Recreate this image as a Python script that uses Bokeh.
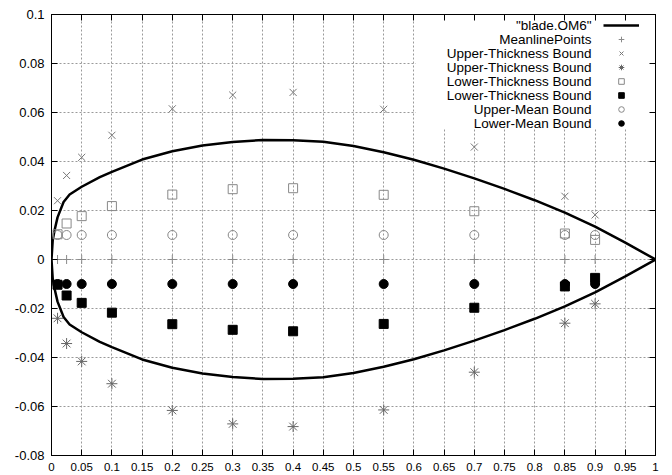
from bokeh.plotting import figure
from bokeh.models import (Range1d, FixedTicker, LinearAxis, Legend, LegendItem, BoxAnnotation,
                          Label, CustomJSTickFormatter)
from bokeh.core.properties import value
from bokeh.embed import file_html
from bokeh.resources import INLINE

# blade profile (upper half; the lower half is its mirror image)
prof_x = [0.0, 0.002, 0.005, 0.01, 0.02, 0.03, 0.05, 0.08, 0.1, 0.15, 0.2, 0.25, 0.3, 0.35,
          0.4, 0.45, 0.5, 0.55, 0.6, 0.65, 0.7, 0.75, 0.8, 0.85, 0.9, 0.95, 1.0]
prof_y = [0.0, 0.0078, 0.0118, 0.0172, 0.0235, 0.0265, 0.0297, 0.0336, 0.0358, 0.0408, 0.0442,
          0.0465, 0.048, 0.0488, 0.0487, 0.0481, 0.0463, 0.0438, 0.0407, 0.0371, 0.0331,
          0.0288, 0.0242, 0.0191, 0.0134, 0.0069, 0.0]

pt_x = [0.01, 0.025, 0.05, 0.1, 0.2, 0.3, 0.4, 0.55, 0.7, 0.85, 0.9]
meanline_y = [0.0, 0.0, 0.0, 0.0, 0.0, 0.0, 0.0, 0.0, 0.0, 0.0, 0.0]
upper_thick_a = [0.024, 0.0343, 0.0417, 0.0507, 0.0615, 0.0671, 0.0682, 0.0613, 0.0459, 0.0258, 0.0182]
upper_thick_b = [-0.024, -0.0343, -0.0416, -0.0507, -0.0616, -0.0671, -0.0682, -0.0614, -0.046, -0.026, -0.0181]
lower_thick_a = [0.0103, 0.0147, 0.0177, 0.0218, 0.0265, 0.0287, 0.0291, 0.0264, 0.0197, 0.0106, 0.008]
lower_thick_b = [-0.0103, -0.0147, -0.0177, -0.0217, -0.0264, -0.0287, -0.0293, -0.0263, -0.0197, -0.011, -0.0075]
upper_mean = [0.01, 0.01, 0.01, 0.01, 0.01, 0.01, 0.01, 0.01, 0.01, 0.01, 0.01]
lower_mean = [-0.01, -0.01, -0.01, -0.01, -0.01, -0.01, -0.01, -0.01, -0.01, -0.01, -0.01]

series_names = ['"blade.OM6"', "MeanlinePoints", "Upper-Thickness Bound", "Upper-Thickness Bound",
                "Lower-Thickness Bound", "Lower-Thickness Bound", "Upper-Mean Bound",
                "Lower-Mean Bound"]

x_ticks = [0, 0.05, 0.1, 0.15, 0.2, 0.25, 0.3, 0.35, 0.4, 0.45, 0.5, 0.55, 0.6, 0.65, 0.7,
           0.75, 0.8, 0.85, 0.9, 0.95, 1]
x_tick_labels = ["0", "0.05", "0.1", "0.15", "0.2", "0.25", "0.3", "0.35", "0.4", "0.45", "0.5",
                 "0.55", "0.6", "0.65", "0.7", "0.75", "0.8", "0.85", "0.9", "0.95", "1"]
y_ticks = [-0.08, -0.06, -0.04, -0.02, 0, 0.02, 0.04, 0.06, 0.08, 0.1]
y_tick_labels = ["-0.08", "-0.06", "-0.04", "-0.02", "0", "0.02", "0.04", "0.06", "0.08", "0.1"]

FONT = "Liberation Sans"

p = figure(width=672, height=475, output_backend="svg", toolbar_location=None,
           x_range=Range1d(0, 1), y_range=Range1d(-0.08, 0.1),
           min_border_left=51, min_border_right=17, min_border_top=14, min_border_bottom=20)
p.background_fill_color = "white"
p.border_fill_color = "white"
p.outline_line_color = "black"
p.outline_line_width = 1

for ax in p.xaxis:
    ax.ticker = FixedTicker(ticks=x_ticks)
    ax.major_label_overrides = dict(zip(x_ticks, x_tick_labels))
    ax.major_label_text_font = FONT
    ax.major_label_text_font_size = "11.5px"
    ax.major_label_standoff = 7
for ax in p.yaxis:
    ax.ticker = FixedTicker(ticks=y_ticks)
    ax.major_label_overrides = dict(zip(y_ticks, y_tick_labels))
    ax.major_label_text_font = FONT
    ax.major_label_text_font_size = "13px"
    ax.major_label_standoff = 7
for ax in list(p.xaxis) + list(p.yaxis):
    ax.major_tick_in = 6
    ax.major_tick_out = 0
    ax.minor_tick_line_color = None
    ax.axis_line_color = "black"
    ax.major_tick_line_color = "black"
    ax.major_label_text_color = "black"

# mirrored ticks on the top and right edges (no labels)
blank = CustomJSTickFormatter(code="return ''")
top_ax = LinearAxis(ticker=FixedTicker(ticks=x_ticks), formatter=blank,
                    major_label_text_font_size="1px", major_label_standoff=0,
                    major_tick_in=6, major_tick_out=0,
                    minor_tick_line_color=None, axis_line_color="black")
right_ax = LinearAxis(ticker=FixedTicker(ticks=y_ticks), formatter=blank,
                      major_label_text_font_size="1px", major_label_standoff=0,
                      major_tick_in=6, major_tick_out=0,
                      minor_tick_line_color=None, axis_line_color="black")
p.add_layout(top_ax, "above")
p.add_layout(right_ax, "right")

for g in (p.xgrid, p.ygrid):
    g.grid_line_color = "#9a9a9a"
    g.grid_line_dash = "2 2"
    g.grid_line_width = 1
p.xgrid.ticker = FixedTicker(ticks=x_ticks)
p.ygrid.ticker = FixedTicker(ticks=y_ticks)

# white area behind the key (blanks the grid like the original)
p.add_layout(BoxAnnotation(left=0.603, right=1, bottom=0.0535, top=0.1, fill_color="white",
                           fill_alpha=1, line_alpha=0, level="underlay"))

# closed profile outline
line_x = prof_x[::-1] + prof_x[1:]
line_y = prof_y[::-1] + [-v for v in prof_y[1:]]
r_line = p.line(line_x, line_y, line_color="black", line_width=2.5)

r_mean = p.scatter(pt_x, meanline_y, marker="cross", size=9, line_color="#8a8a8a", line_width=1)
r_ut_a = p.scatter(pt_x, upper_thick_a, marker="x", size=10, line_color="#777777", line_width=1)
r_ut_b = p.scatter(pt_x, upper_thick_b, marker="asterisk", size=11, line_color="#666666", line_width=1)
r_lt_a = p.scatter(pt_x, lower_thick_a, marker="square", size=9, fill_color=None,
                   line_color="#888888", line_width=1)
r_lt_b = p.scatter(pt_x, lower_thick_b, marker="square", size=9, fill_color="black",
                   line_color="black", line_width=1)
r_um = p.scatter(pt_x, upper_mean, marker="circle", size=9, fill_color=None,
                 line_color="#888888", line_width=1)
r_lm = p.scatter(pt_x, lower_mean, marker="circle", size=9, fill_color="black",
                 line_color="black", line_width=1)

renderers = [r_line, r_mean, r_ut_a, r_ut_b, r_lt_a, r_lt_b, r_um, r_lm]

# key: symbols on the right, names right-aligned to their left (gnuplot style)
ROW = 14
key_top = 437          # px above the frame bottom, top of the key
key_sym_left = 552     # px right of the frame left edge
items = [LegendItem(label=value(""), renderers=[r]) for r in renderers]
legend = Legend(items=items, location=(key_sym_left, key_top - ROW * len(items)),
                padding=0, margin=0, glyph_width=36, glyph_height=ROW, label_height=ROW,
                label_width=0, label_standoff=0, label_text_font_size="9px", spacing=0,
                background_fill_alpha=0, border_line_alpha=0)
p.add_layout(legend)

for i, name in enumerate(series_names):
    p.add_layout(Label(x=key_sym_left - 12, y=key_top - ROW * i - ROW / 2,
                       x_units="screen", y_units="screen", text=name,
                       text_align="right", text_baseline="middle",
                       text_font=FONT, text_font_size="13.5px", text_color="black"))

open("out.html", "w").write(file_html(p, INLINE))
